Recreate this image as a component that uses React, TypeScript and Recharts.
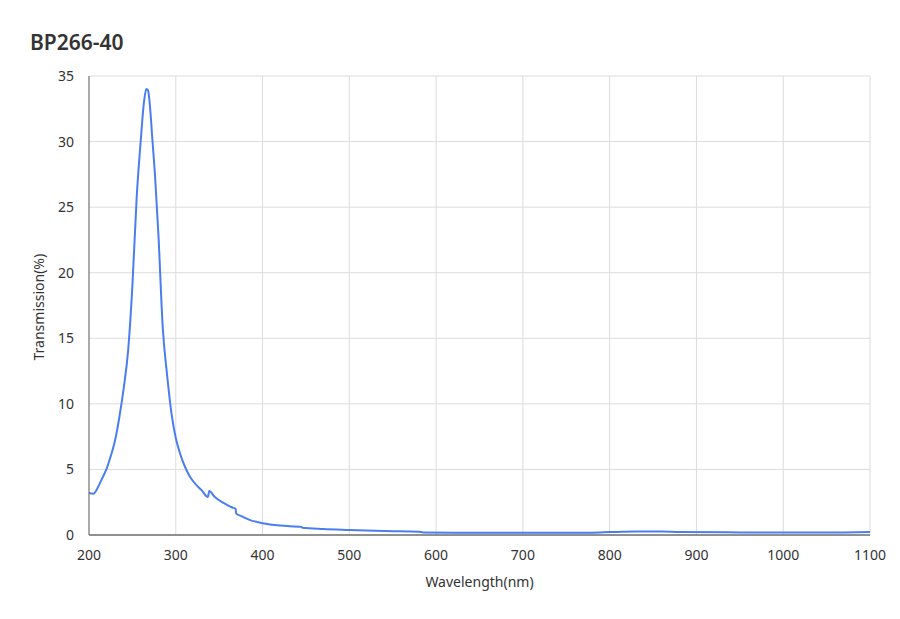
import React from "react";
import { LineChart, Line, XAxis, YAxis, CartesianGrid } from "recharts";

const wavelength = [
  200, 205, 210, 215, 220, 225, 230, 235, 240, 245, 250, 255, 260, 263, 266, 268, 270, 273, 276, 280,
  285, 290, 295, 300, 305, 310, 315, 320, 330, 337, 338.5, 345, 355, 365, 369, 369.5, 375, 385, 400,
  420, 445, 446, 470, 500, 540, 580, 585, 620, 700, 780, 800, 830, 860, 880, 950, 1000, 1050, 1100,
];

const transmission = [
  3.2, 3.15, 3.6, 4.3, 5.0, 6.0, 7.2, 9.0, 11.2, 14.0, 19.0, 25.8, 30.4, 32.8, 34.0, 33.9, 32.9, 30.2, 27.5, 22.9,
  15.8, 12.2, 9.3, 7.4, 6.2, 5.3, 4.6, 4.1, 3.4, 2.9, 3.35, 2.9, 2.45, 2.1, 2.0, 1.65, 1.45, 1.15, 0.9,
  0.72, 0.62, 0.55, 0.45, 0.38, 0.3, 0.25, 0.2, 0.18, 0.17, 0.18, 0.22, 0.27, 0.27, 0.22, 0.2, 0.19, 0.19, 0.23,
];

const xTicks = [200, 300, 400, 500, 600, 700, 800, 900, 1000, 1100];
const yTicks = [0, 5, 10, 15, 20, 25, 30, 35];

const chartData = wavelength.map((w, i) => ({ w, t: transmission[i] }));

const font = "'Noto Sans', 'Liberation Sans', sans-serif";

export default function App() {
  return (
    <div style={{ position: "absolute", left: 0, top: 0, width: 900, height: 619, background: "#fff", fontFamily: font }}>
      <div
        style={{
          position: "absolute",
          left: 30,
          top: 29,
          fontSize: 21,
          fontWeight: 600,
          color: "#333",
          lineHeight: "26px",
        }}
      >
        BP266-40
      </div>
      <LineChart width={900} height={619} data={chartData} margin={{ top: 76, right: 30, bottom: 54, left: 29 }}>
        <CartesianGrid stroke="#dcdcdc" strokeWidth={1} />
        <XAxis
          dataKey="w"
          type="number"
          domain={[200, 1100]}
          ticks={xTicks}
          tickSize={0}
          tickMargin={15}
          height={30}
          stroke="#333"
          tick={{ fill: "#333", fontSize: 14, fontFamily: font }}
          label={{ value: "Wavelength(nm)", position: "insideBottom", offset: -22, fill: "#333", fontSize: 14, fontFamily: font }}
        />
        <YAxis
          type="number"
          domain={[0, 35]}
          ticks={yTicks}
          tickSize={0}
          tickMargin={15}
          width={60}
          stroke="#666"
          tick={{ fill: "#333", fontSize: 14, fontFamily: font }}
          label={{ value: "Transmission(%)", angle: -90, position: "insideLeft", offset: 10, dy: 55, fill: "#333", fontSize: 14, fontFamily: font }}
        />
        <Line
          type="monotone"
          dataKey="t"
          stroke="#4a7ef0"
          strokeWidth={2}
          dot={false}
          isAnimationActive={false}
        />
      </LineChart>
    </div>
  );
}
